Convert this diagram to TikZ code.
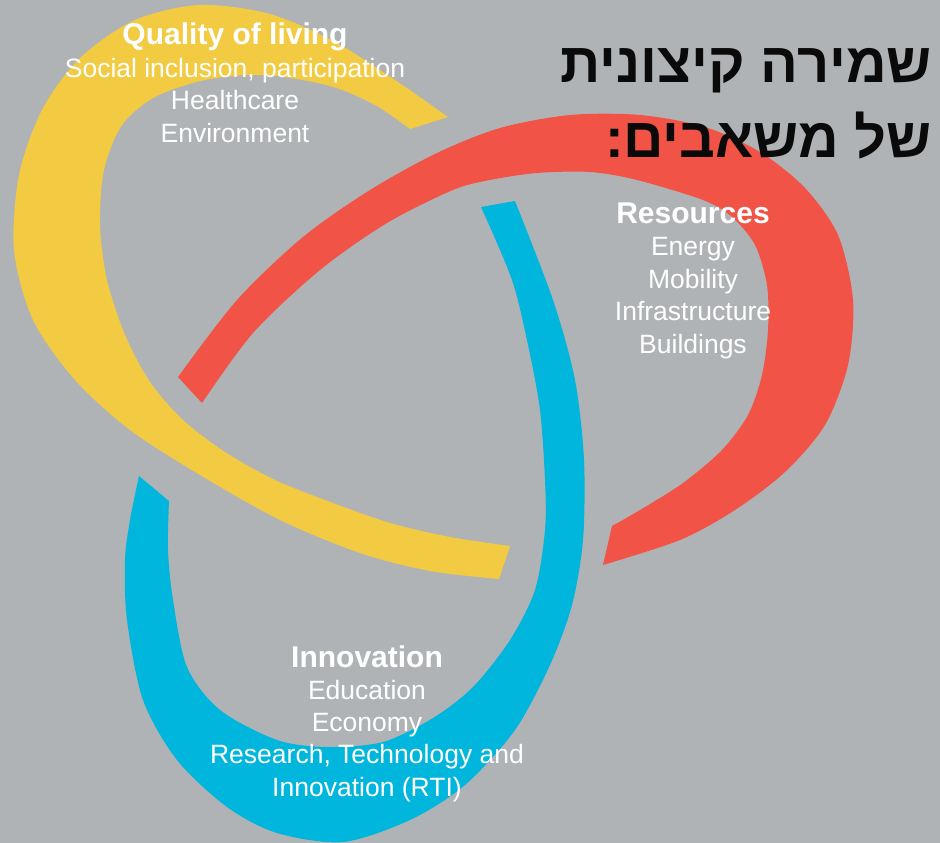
\documentclass[tikz,border=0pt]{standalone}
\usepackage{fontspec}
\setmainfont{Liberation Sans}
\newfontfamily\hebfont[Script=Hebrew]{Liberation Sans}
\TeXXeTstate=1
\usepackage{xcolor}
\usetikzlibrary{positioning}
\definecolor{bggray}{RGB}{176,179,181}
\definecolor{bandyellow}{RGB}{243,203,67}
\definecolor{bandred}{RGB}{241,84,71}
\definecolor{bandblue}{RGB}{0,182,220}
\definecolor{hebblack}{RGB}{10,10,10}

\begin{document}
\begin{tikzpicture}[x=1pt, y=-1pt,
  head/.style={text=white, anchor=base, inner sep=0pt, font=\fontsize{30}{32}\selectfont\bfseries},
  item/.style={text=white, anchor=base, inner sep=0pt, font=\fontsize{26.5}{30}\selectfont}]
\useasboundingbox (0,0) rectangle (940,843);
\fill[bggray] (0,0) rectangle (940,843); % background
% Quality of living band
\fill[bandyellow] plot[smooth] coordinates {(448,117) (395,80) (335,42) (270,14) (200,5) (135,20) (80,58) (42,110) (19,175) (14,250) (33,320) (75,380) (130,430) (200,475) (280,520) (360,553) (430,571) (499,579)}
  -- plot[smooth] coordinates {(510,546) (450,537) (390,523) (333,503) (275,480) (225,452) (183,420) (150,382) (125,335) (107,280) (100,225) (104,170) (122,125) (155,97) (205,80) (265,75) (330,86) (375,105) (410,129)} -- cycle;
% Resources band
\fill[bandred] plot[smooth] coordinates {(178,377) (237,300) (303,237) (370,190) (437,153) (500,128) (570,115) (640,115) (705,127) (760,152) (805,188) (838,235) (853,300) (848,365) (825,425) (785,472) (735,510) (680,540) (603,565)}
  -- plot[smooth] coordinates {(612,526) (640,510) (683,483) (722,450) (748,415) (762,375) (768,330) (767,285) (755,245) (732,217) (703,200) (637,180) (590,172) (537,173) (490,180) (453,190) (387,223) (320,270) (253,333) (202,403)} -- cycle;
% Innovation band
\fill[bandblue] plot[smooth] coordinates {(515,201) (553,300) (575,380) (584,460) (583,540) (572,605) (550,665) (515,730) (465,785) (410,820) (343,842) (277,833) (227,807) (177,760) (143,700) (127,620) (125,560) (130,520) (139,476)}
  -- plot[smooth] coordinates {(169,501) (168,550) (173,600) (187,667) (220,710) (277,740) (327,747) (383,742) (433,718) (473,687) (510,640) (535,590) (545,530) (545,480) (540,410) (528,345) (512,280) (481,207)} -- cycle;
% labels
\node[head] (quality) at (235,45) {Quality of living};
\foreach \txt [count=\i] in {{Social inclusion, participation}, Healthcare, Environment}
  \node[item] (quality\i) at (235,45+32.4*\i) {\txt};
\node[head] (resources) at (693,223) {Resources};
\foreach \txt [count=\i] in {Energy, Mobility, Infrastructure, Buildings}
  \node[item] (resources\i) at (693,223+32.5*\i) {\txt};
\node[head] (innovation) at (367,667) {Innovation};
\foreach \txt [count=\i] in {Education, Economy, {Research, Technology and}, Innovation (RTI)}
  \node[item] (innovation\i) at (367,667+32.3*\i) {\txt};
% title
\node[text=hebblack, anchor=base east, inner sep=0pt, align=right, font=\hebfont\fontsize{56}{75}\selectfont\bfseries] (hebtitle) at (932,157)
  {\beginR שמירה קיצונית\endR\\ \beginR של משאבים:\endR};
\end{tikzpicture}
\end{document}
